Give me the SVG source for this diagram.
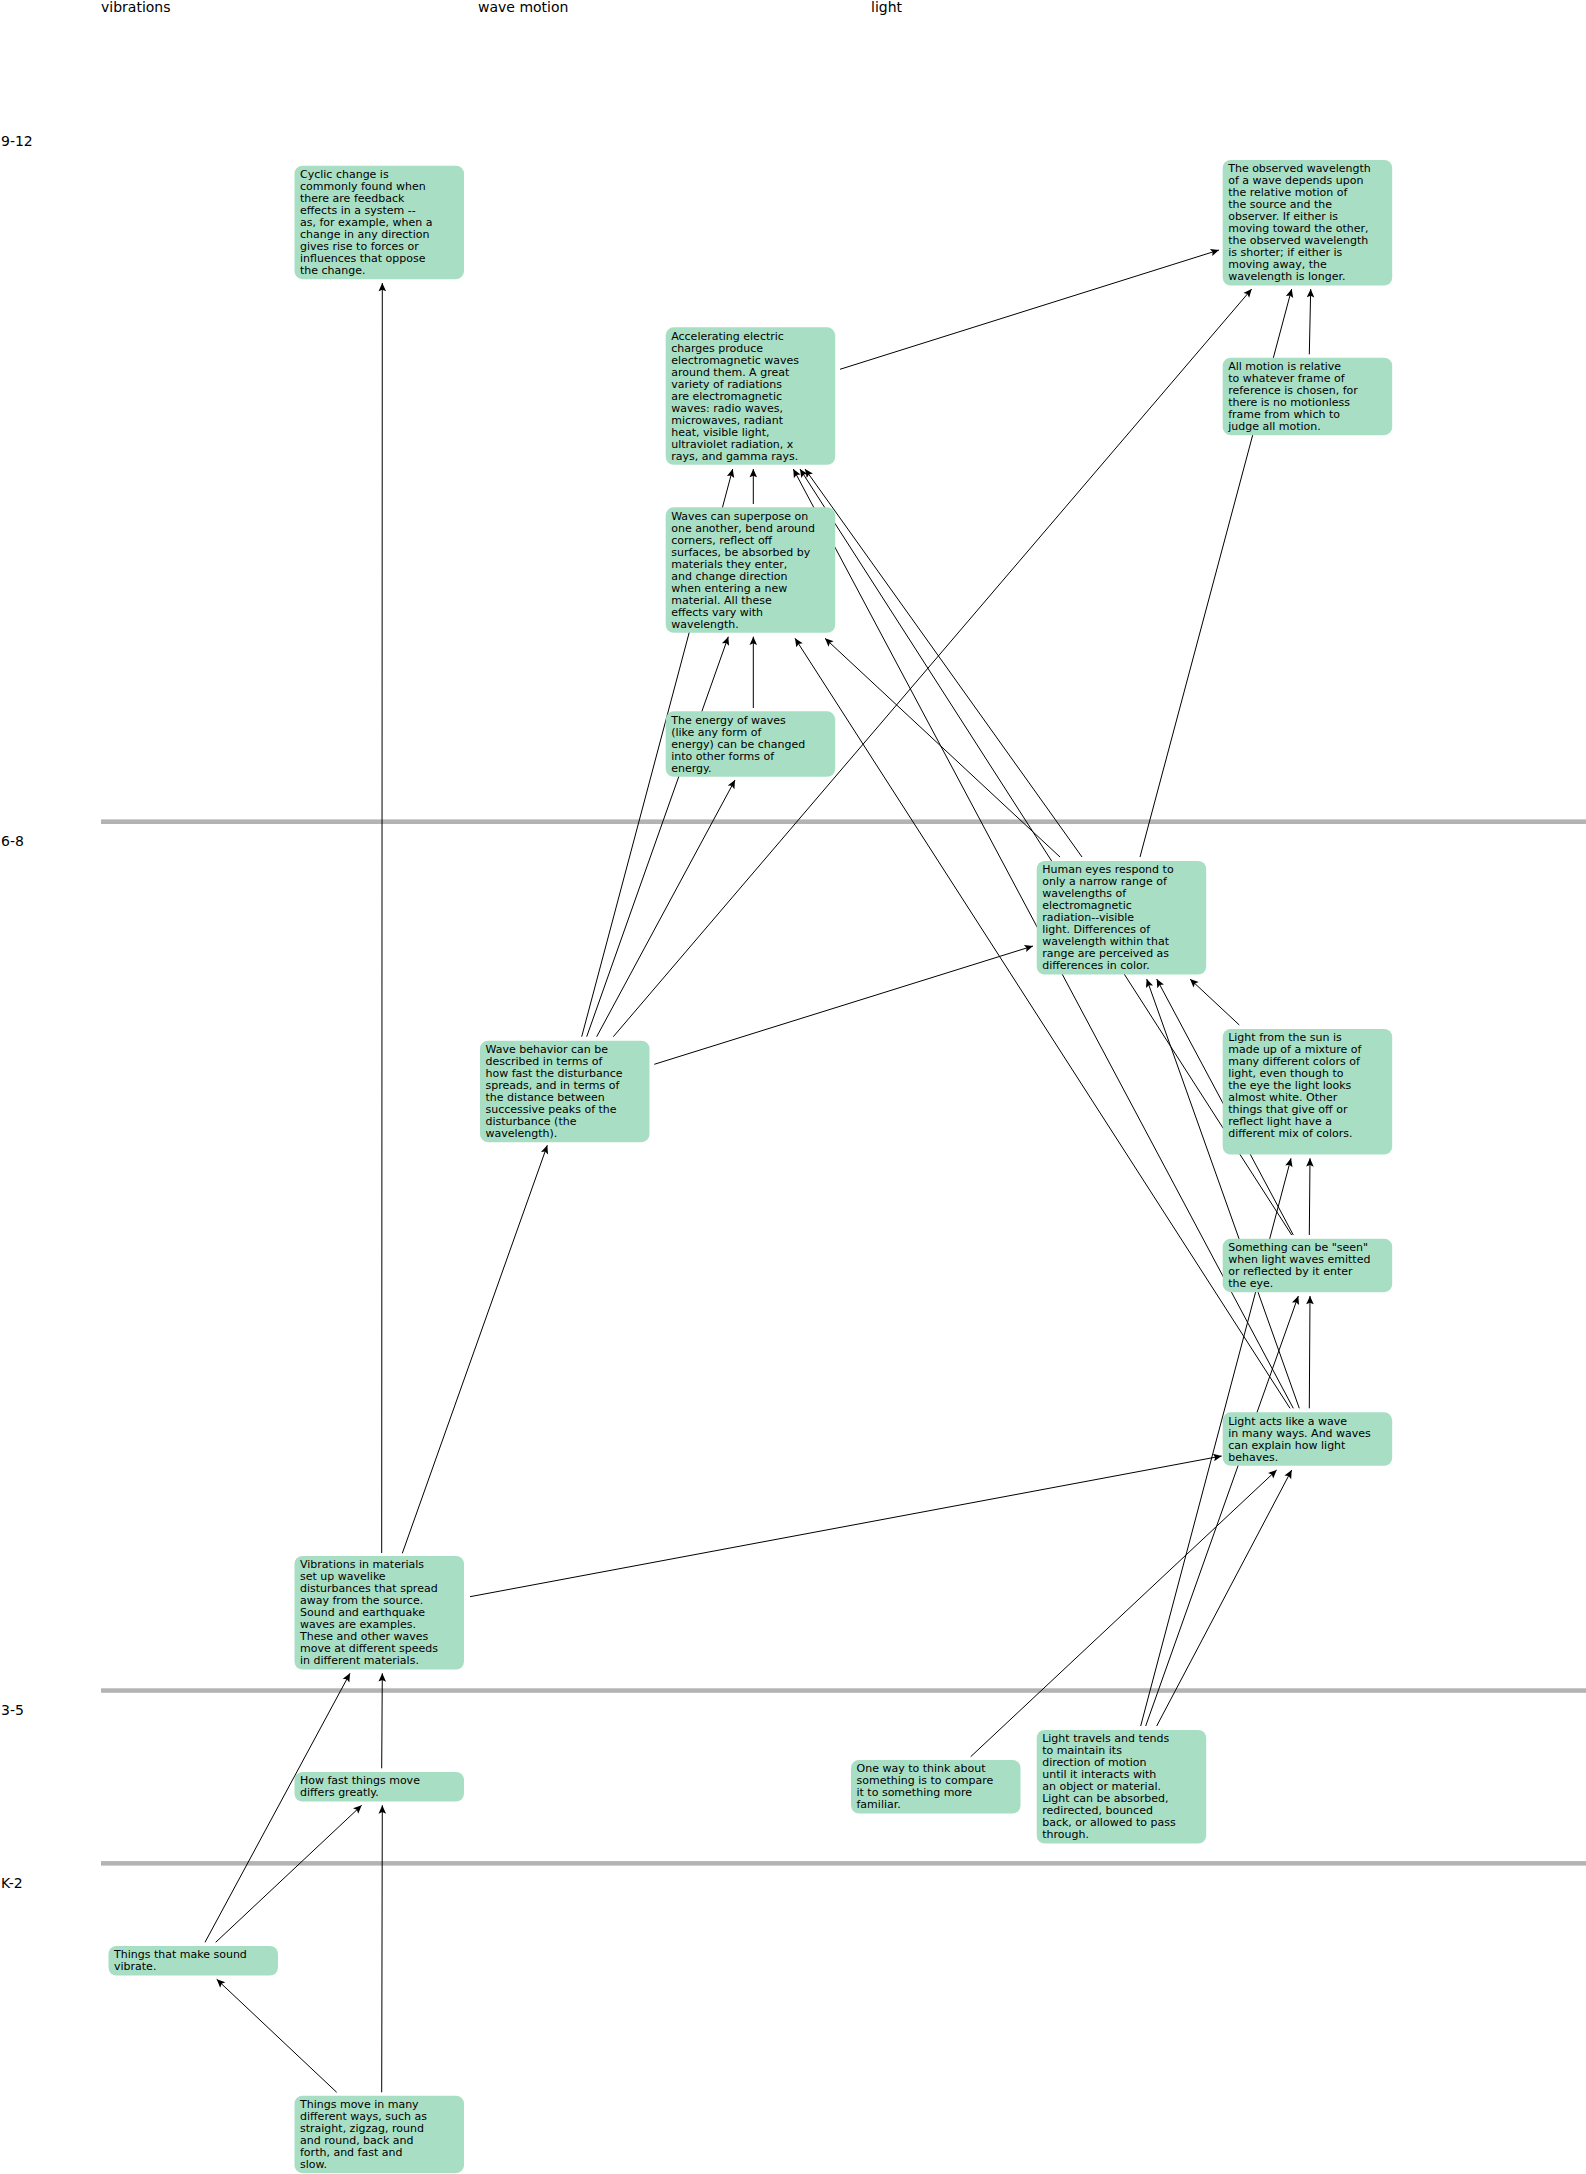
<svg xmlns="http://www.w3.org/2000/svg" width="1586" height="2174" viewBox="0 0 1586 2174">
<style>
  .bg{fill:#ffffff}
  .grid{fill:#b3b3b3}
  .hdr{font-family:"DejaVu Sans",Verdana,sans-serif;font-size:14px;fill:#000}
  .box{fill:#a8dfc4}
  .lbl{font-family:"DejaVu Sans",Verdana,sans-serif;font-size:11px;fill:#000}
  .edge{stroke:#000;stroke-width:1;fill:none;marker-end:url(#arr)}
</style>
<defs>
  <marker id="arr" markerUnits="userSpaceOnUse" markerWidth="10" markerHeight="10" viewBox="-8 -4 9 8" refX="0" refY="0" orient="auto">
    <path d="M0,0 L-7.5,-3.4 L-6,0 L-7.5,3.4 Z" fill="#000"/>
  </marker>
</defs>
<rect class="bg" x="0" y="0" width="1586" height="2174"/>

<g id="headers">
  <text class="hdr" x="101" y="12.3">vibrations</text>
  <text class="hdr" x="478" y="12.3">wave motion</text>
  <text class="hdr" x="871" y="12.3">light</text>
  <text class="hdr" x="1" y="146">9-12</text>
  <text class="hdr" x="1" y="846">6-8</text>
  <text class="hdr" x="1" y="1715">3-5</text>
  <text class="hdr" x="1" y="1888">K-2</text>
</g>

<g id="gridlines">
  <rect class="grid" x="101" y="819.4" width="1485" height="4.6"/>
  <rect class="grid" x="101" y="1688.3" width="1485" height="4.5"/>
  <rect class="grid" x="101" y="1861.1" width="1485" height="4.5"/>
</g>

<g id="connectors">
  <line class="edge" x1="381.7" y1="1553" x2="382.3" y2="283"/>
  <line class="edge" x1="402.3" y1="1553.3" x2="547.3" y2="1145.3"/>
  <line class="edge" x1="470" y1="1596.7" x2="1221.7" y2="1456"/>
  <line class="edge" x1="205" y1="1942.3" x2="350" y2="1673.3"/>
  <line class="edge" x1="215.7" y1="1942.3" x2="361.7" y2="1805.3"/>
  <line class="edge" x1="381.7" y1="1768.3" x2="382.3" y2="1673.3"/>
  <line class="edge" x1="381.7" y1="2092.3" x2="382.3" y2="1805.3"/>
  <line class="edge" x1="336.7" y1="2092.3" x2="216.7" y2="1979.3"/>
  <line class="edge" x1="970.7" y1="1756.7" x2="1276.7" y2="1470"/>
  <line class="edge" x1="1156.7" y1="1726" x2="1291.7" y2="1470"/>
  <line class="edge" x1="1145.7" y1="1726" x2="1298.3" y2="1296"/>
  <line class="edge" x1="1140.7" y1="1726" x2="1291" y2="1158.3"/>
  <line class="edge" x1="1309.3" y1="1235" x2="1310" y2="1158.3"/>
  <line class="edge" x1="1309.3" y1="1408.3" x2="1310" y2="1296"/>
  <line class="edge" x1="1299.3" y1="1408.3" x2="1146.7" y2="979"/>
  <line class="edge" x1="1239.3" y1="1025" x2="1190" y2="979"/>
  <line class="edge" x1="1293.3" y1="1235" x2="1156.7" y2="979"/>
  <line class="edge" x1="654.3" y1="1064.3" x2="1033" y2="946"/>
  <line class="edge" x1="613.3" y1="1036.7" x2="1251.7" y2="289"/>
  <line class="edge" x1="596.7" y1="1036.7" x2="735" y2="780"/>
  <line class="edge" x1="586.7" y1="1036.7" x2="728.3" y2="636.7"/>
  <line class="edge" x1="581.7" y1="1036.7" x2="732.7" y2="469"/>
  <line class="edge" x1="753.3" y1="708" x2="753.3" y2="636.7"/>
  <line class="edge" x1="753.3" y1="504" x2="753.3" y2="469"/>
  <line class="edge" x1="840" y1="369.3" x2="1219" y2="250"/>
  <line class="edge" x1="1309.3" y1="354.3" x2="1310.7" y2="289"/>
  <line class="edge" x1="1140" y1="857" x2="1291.7" y2="289"/>
  <line class="edge" x1="1060" y1="857" x2="825" y2="638.3"/>
  <line class="edge" x1="1082" y1="857" x2="805" y2="469"/>
  <line class="edge" x1="1291.7" y1="1235" x2="800" y2="469"/>
  <line class="edge" x1="1293.3" y1="1408.3" x2="793.3" y2="469"/>
  <line class="edge" x1="1290" y1="1408.3" x2="795" y2="638.3"/>
</g>

<g id="n-cyclic">
  <rect class="box" x="294.5" y="165.7" width="169.5" height="113.5" rx="8"/>
  <text class="lbl" y="178"><tspan x="300" >Cyclic change is</tspan><tspan x="300" dy="12">commonly found when</tspan><tspan x="300" dy="12">there are feedback</tspan><tspan x="300" dy="12">effects in a system --</tspan><tspan x="300" dy="12">as, for example, when a</tspan><tspan x="300" dy="12">change in any direction</tspan><tspan x="300" dy="12">gives rise to forces or</tspan><tspan x="300" dy="12">influences that oppose</tspan><tspan x="300" dy="12">the change.</tspan></text>
</g>

<g id="n-observed">
  <rect class="box" x="1222.7" y="160" width="169.5" height="125.5" rx="8"/>
  <text class="lbl" y="172.3"><tspan x="1228.2">The observed wavelength</tspan><tspan x="1228.2" dy="12">of a wave depends upon</tspan><tspan x="1228.2" dy="12">the relative motion of</tspan><tspan x="1228.2" dy="12">the source and the</tspan><tspan x="1228.2" dy="12">observer. If either is</tspan><tspan x="1228.2" dy="12">moving toward the other,</tspan><tspan x="1228.2" dy="12">the observed wavelength</tspan><tspan x="1228.2" dy="12">is shorter; if either is</tspan><tspan x="1228.2" dy="12">moving away, the</tspan><tspan x="1228.2" dy="12">wavelength is longer.</tspan></text>
</g>

<g id="n-accelerating">
  <rect class="box" x="665.7" y="327.3" width="169.5" height="137.5" rx="8"/>
  <text class="lbl" y="339.6"><tspan x="671.2">Accelerating electric</tspan><tspan x="671.2" dy="12">charges produce</tspan><tspan x="671.2" dy="12">electromagnetic waves</tspan><tspan x="671.2" dy="12">around them. A great</tspan><tspan x="671.2" dy="12">variety of radiations</tspan><tspan x="671.2" dy="12">are electromagnetic</tspan><tspan x="671.2" dy="12">waves: radio waves,</tspan><tspan x="671.2" dy="12">microwaves, radiant</tspan><tspan x="671.2" dy="12">heat, visible light,</tspan><tspan x="671.2" dy="12">ultraviolet radiation, x</tspan><tspan x="671.2" dy="12">rays, and gamma rays.</tspan></text>
</g>

<g id="n-allmotion">
  <rect class="box" x="1222.7" y="357.7" width="169.5" height="77.5" rx="8"/>
  <text class="lbl" y="370"><tspan x="1228.2">All motion is relative</tspan><tspan x="1228.2" dy="12">to whatever frame of</tspan><tspan x="1228.2" dy="12">reference is chosen, for</tspan><tspan x="1228.2" dy="12">there is no motionless</tspan><tspan x="1228.2" dy="12">frame from which to</tspan><tspan x="1228.2" dy="12">judge all motion.</tspan></text>
</g>

<g id="n-superpose">
  <rect class="box" x="665.7" y="507.3" width="169.5" height="125.5" rx="8"/>
  <text class="lbl" y="519.6"><tspan x="671.2">Waves can superpose on</tspan><tspan x="671.2" dy="12">one another, bend around</tspan><tspan x="671.2" dy="12">corners, reflect off</tspan><tspan x="671.2" dy="12">surfaces, be absorbed by</tspan><tspan x="671.2" dy="12">materials they enter,</tspan><tspan x="671.2" dy="12">and change direction</tspan><tspan x="671.2" dy="12">when entering a new</tspan><tspan x="671.2" dy="12">material. All these</tspan><tspan x="671.2" dy="12">effects vary with</tspan><tspan x="671.2" dy="12">wavelength.</tspan></text>
</g>

<g id="n-energy">
  <rect class="box" x="665.7" y="711.3" width="169.5" height="65.5" rx="8"/>
  <text class="lbl" y="723.6"><tspan x="671.2">The energy of waves</tspan><tspan x="671.2" dy="12">(like any form of</tspan><tspan x="671.2" dy="12">energy) can be changed</tspan><tspan x="671.2" dy="12">into other forms of</tspan><tspan x="671.2" dy="12">energy.</tspan></text>
</g>

<g id="n-humaneyes">
  <rect class="box" x="1036.7" y="861" width="169.5" height="113.5" rx="8"/>
  <text class="lbl" y="873.3"><tspan x="1042.2">Human eyes respond to</tspan><tspan x="1042.2" dy="12">only a narrow range of</tspan><tspan x="1042.2" dy="12">wavelengths of</tspan><tspan x="1042.2" dy="12">electromagnetic</tspan><tspan x="1042.2" dy="12">radiation--visible</tspan><tspan x="1042.2" dy="12">light. Differences of</tspan><tspan x="1042.2" dy="12">wavelength within that</tspan><tspan x="1042.2" dy="12">range are perceived as</tspan><tspan x="1042.2" dy="12">differences in color.</tspan></text>
</g>

<g id="n-wavebehavior">
  <rect class="box" x="480" y="1040.7" width="169.5" height="101.5" rx="8"/>
  <text class="lbl" y="1053"><tspan x="485.5">Wave behavior can be</tspan><tspan x="485.5" dy="12">described in terms of</tspan><tspan x="485.5" dy="12">how fast the disturbance</tspan><tspan x="485.5" dy="12">spreads, and in terms of</tspan><tspan x="485.5" dy="12">the distance between</tspan><tspan x="485.5" dy="12">successive peaks of the</tspan><tspan x="485.5" dy="12">disturbance (the</tspan><tspan x="485.5" dy="12">wavelength).</tspan></text>
</g>

<g id="n-sunlight">
  <rect class="box" x="1222.7" y="1029" width="169.5" height="125.5" rx="8"/>
  <text class="lbl" y="1041.3"><tspan x="1228.2">Light from the sun is</tspan><tspan x="1228.2" dy="12">made up of a mixture of</tspan><tspan x="1228.2" dy="12">many different colors of</tspan><tspan x="1228.2" dy="12">light, even though to</tspan><tspan x="1228.2" dy="12">the eye the light looks</tspan><tspan x="1228.2" dy="12">almost white. Other</tspan><tspan x="1228.2" dy="12">things that give off or</tspan><tspan x="1228.2" dy="12">reflect light have a</tspan><tspan x="1228.2" dy="12">different mix of colors.</tspan></text>
</g>

<g id="n-seen">
  <rect class="box" x="1222.7" y="1238.7" width="169.5" height="53.5" rx="8"/>
  <text class="lbl" y="1251"><tspan x="1228.2">Something can be "seen"</tspan><tspan x="1228.2" dy="12">when light waves emitted</tspan><tspan x="1228.2" dy="12">or reflected by it enter</tspan><tspan x="1228.2" dy="12">the eye.</tspan></text>
</g>

<g id="n-lightwave">
  <rect class="box" x="1222.7" y="1412.3" width="169.5" height="53.5" rx="8"/>
  <text class="lbl" y="1424.6"><tspan x="1228.2">Light acts like a wave</tspan><tspan x="1228.2" dy="12">in many ways. And waves</tspan><tspan x="1228.2" dy="12">can explain how light</tspan><tspan x="1228.2" dy="12">behaves.</tspan></text>
</g>

<g id="n-vibrations">
  <rect class="box" x="294.5" y="1556" width="169.5" height="113.5" rx="8"/>
  <text class="lbl" y="1568.3"><tspan x="300">Vibrations in materials</tspan><tspan x="300" dy="12">set up wavelike</tspan><tspan x="300" dy="12">disturbances that spread</tspan><tspan x="300" dy="12">away from the source.</tspan><tspan x="300" dy="12">Sound and earthquake</tspan><tspan x="300" dy="12">waves are examples.</tspan><tspan x="300" dy="12">These and other waves</tspan><tspan x="300" dy="12">move at different speeds</tspan><tspan x="300" dy="12">in different materials.</tspan></text>
</g>

<g id="n-lighttravels">
  <rect class="box" x="1036.7" y="1730" width="169.5" height="113.5" rx="8"/>
  <text class="lbl" y="1742.3"><tspan x="1042.2">Light travels and tends</tspan><tspan x="1042.2" dy="12">to maintain its</tspan><tspan x="1042.2" dy="12">direction of motion</tspan><tspan x="1042.2" dy="12">until it interacts with</tspan><tspan x="1042.2" dy="12">an object or material.</tspan><tspan x="1042.2" dy="12">Light can be absorbed,</tspan><tspan x="1042.2" dy="12">redirected, bounced</tspan><tspan x="1042.2" dy="12">back, or allowed to pass</tspan><tspan x="1042.2" dy="12">through.</tspan></text>
</g>

<g id="n-oneway">
  <rect class="box" x="851" y="1760" width="169.5" height="53.5" rx="8"/>
  <text class="lbl" y="1772.3"><tspan x="856.5">One way to think about</tspan><tspan x="856.5" dy="12">something is to compare</tspan><tspan x="856.5" dy="12">it to something more</tspan><tspan x="856.5" dy="12">familiar.</tspan></text>
</g>

<g id="n-howfast">
  <rect class="box" x="294.5" y="1772" width="169.5" height="29.5" rx="8"/>
  <text class="lbl" y="1784.3"><tspan x="300">How fast things move</tspan><tspan x="300" dy="12">differs greatly.</tspan></text>
</g>

<g id="n-makesound">
  <rect class="box" x="108.5" y="1946" width="169.5" height="29.5" rx="8"/>
  <text class="lbl" y="1958.3"><tspan x="114">Things that make sound</tspan><tspan x="114" dy="12">vibrate.</tspan></text>
</g>

<g id="n-thingsmove">
  <rect class="box" x="294.5" y="2095.7" width="169.5" height="77.5" rx="8"/>
  <text class="lbl" y="2108"><tspan x="300">Things move in many</tspan><tspan x="300" dy="12">different ways, such as</tspan><tspan x="300" dy="12">straight, zigzag, round</tspan><tspan x="300" dy="12">and round, back and</tspan><tspan x="300" dy="12">forth, and fast and</tspan><tspan x="300" dy="12">slow.</tspan></text>
</g>
</svg>
